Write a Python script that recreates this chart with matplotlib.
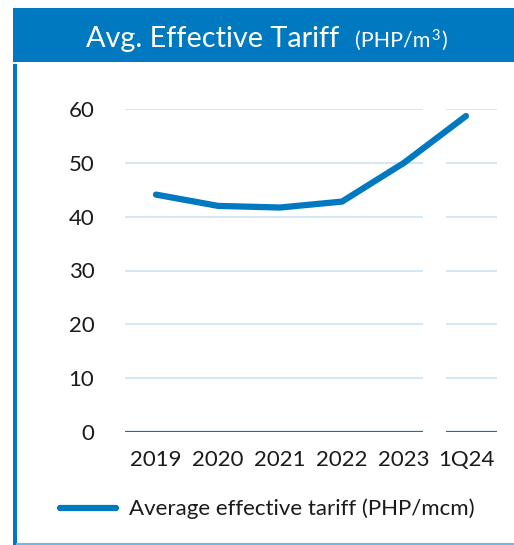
import matplotlib.pyplot as plt
from matplotlib.patches import Rectangle
from matplotlib.lines import Line2D

blue = '#0079C1'
grid_blue = '#D4E6F4'
edge_blue = '#6CB8E6'

# data
categories = ['2019', '2020', '2021', '2022', '2023', '1Q24']
tariff = [44.1, 42.0, 41.7, 42.8, 50.0, 58.7]
y_ticks = [0, 10, 20, 30, 40, 50, 60]

plt.rcParams['font.family'] = ['Lato', 'DejaVu Sans']

W, H = 514, 545
fig = plt.figure(figsize=(W / 100, H / 100), dpi=100, facecolor='white')
renderer = fig.canvas.get_renderer()

# header band and frame lines
fig.add_artist(Rectangle((13 / W, 1 - 62 / H), 501 / W, 54 / H,
                         transform=fig.transFigure, color=blue, lw=0))
fig.add_artist(Rectangle((13 / W, 0), 4 / W, 1 - 64 / H,
                         transform=fig.transFigure, color=blue, lw=0))
fig.add_artist(Line2D([17 / W, 1], [1 - 543.5 / H] * 2,
                      transform=fig.transFigure, color=edge_blue, lw=1.5))

base_y = 1 - 47 / H
fig.text(86 / W, base_y, 'Avg. Effective Tariff', color='white',
         fontsize=20.8, ha='left', va='baseline')

# unit part: "(PHP/m" + raised "3" + ")"
t1 = fig.text(355 / W, base_y, '(PHP/m', color='white', fontsize=15.5,
              ha='left', va='baseline')
x_px = t1.get_window_extent(renderer).x1
t2 = fig.text(x_px / W + 0.002, base_y + 7 / H, '3', color='white',
              fontsize=10.5, ha='left', va='baseline')
x_px = t2.get_window_extent(renderer).x1
fig.text(x_px / W + 0.002, base_y, ')', color='white', fontsize=15.5,
         ha='left', va='baseline')

ax = fig.add_axes([125 / W, 1 - 432 / H, 372 / W, 323 / H])
x = list(range(len(categories)))

# gridlines are split between 2023 and 1Q24
for yv in y_ticks:
    c = blue if yv == 0 else grid_blue
    lw = 1.6 if yv == 0 else 1.4
    ax.hlines(yv, -0.5, 4.31, color=c, lw=lw, zorder=1)
    ax.hlines(yv, 4.68, 5.5, color=c, lw=lw, zorder=1)

ax.plot(x, tariff, color=blue, lw=4.5, solid_capstyle='round',
        solid_joinstyle='round', clip_on=False, zorder=3,
        label='Average effective tariff (PHP/mcm)')

ax.set_xlim(-0.5, 5.5)
ax.set_ylim(0, 60)
ax.set_xticks(x)
ax.set_xticklabels(categories)
ax.set_yticks(y_ticks)
ax.tick_params(axis='both', length=0, labelsize=16, colors='#1a1a1a')
ax.tick_params(axis='y', pad=22)
ax.tick_params(axis='x', pad=13)

for spine in ax.spines.values():
    spine.set_visible(False)

fig.legend(loc='center left', bbox_to_anchor=(60 / W, 1 - 509 / H),
           frameon=False, fontsize=16, handlelength=2.5, handletextpad=0.6,
           borderpad=0, borderaxespad=0, labelcolor='#1a1a1a')

plt.savefig('out.png', dpi=100)
